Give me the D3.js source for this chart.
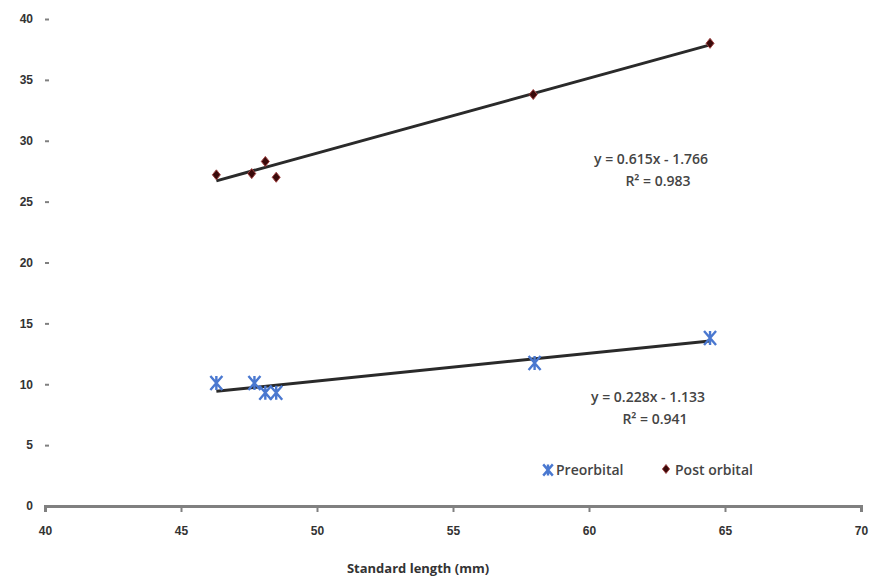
<!DOCTYPE html>
<html><head><meta charset="utf-8">
<script src="https://cdn.jsdelivr.net/npm/d3@7"></script>
<style>body{margin:0;background:#fff}svg{display:block;font-family:"Open Sans",sans-serif}</style>
</head><body><svg id="c" width="872" height="581"></svg>
<script>
const preX = [46.3, 47.7, 48.1, 48.5, 58.0, 64.45];
const preY = [10.1, 10.1, 9.3, 9.3, 11.75, 13.8];
const postX = [46.3, 47.6, 48.1, 48.5, 57.95, 64.45];
const postY = [27.2, 27.3, 28.3, 27.0, 33.8, 38.0];
const preFit = {slope: 0.228, intercept: -1.133, r2: 0.941};
const postFit = {slope: 0.615, intercept: -1.766, r2: 0.983};
const xTicks = [40, 45, 50, 55, 60, 65, 70];
const yTicks = [0, 5, 10, 15, 20, 25, 30, 35, 40];
const seriesNames = ["Preorbital", "Post orbital"];

const svg = d3.select("#c");
const x = d3.scaleLinear().domain([40, 70]).range([45, 861]);
const y = d3.scaleLinear().domain([0, 40]).range([506, 19]);

// x axis
const xa = svg.append("g").attr("transform", "translate(0,506)")
  .call(d3.axisBottom(x).tickValues(xTicks).tickSize(6).tickPadding(14).tickFormat(d3.format("d")));
xa.select(".domain").attr("stroke", "#808080").attr("stroke-width", 3);
xa.selectAll(".tick line").attr("stroke", "#808080").attr("stroke-width", 2);
xa.selectAll("text").attr("font-size", 12).attr("font-weight", 600).attr("fill", "#333");

// y axis (ticks only)
const ya = svg.append("g").attr("transform", "translate(49,0)")
  .call(d3.axisLeft(y).tickValues(yTicks).tickSize(4).tickPadding(12).tickFormat(d3.format("d")));
ya.select(".domain").remove();
ya.selectAll(".tick line").attr("stroke", "#808080").attr("stroke-width", 2);
ya.selectAll("text").attr("font-size", 12).attr("font-weight", 600).attr("fill", "#333");

// trend lines
function trend(fit, xs) {
  const x0 = d3.min(xs), x1 = d3.max(xs);
  svg.append("line")
    .attr("x1", x(x0)).attr("y1", y(fit.slope * x0 + fit.intercept))
    .attr("x2", x(x1)).attr("y2", y(fit.slope * x1 + fit.intercept))
    .attr("stroke", "#2a2a2a").attr("stroke-width", 3);
}
trend(postFit, postX);
trend(preFit, preX);

// markers
const starPath = "M-6,-7L6,7M6,-7L-6,7M0,-7L0,7";
function star(g, cx, cy, s) {
  g.append("path").attr("d", starPath).attr("transform", `translate(${cx},${cy}) scale(${s})`)
    .attr("stroke", "#4a78d0").attr("stroke-width", 2.4 / s).attr("fill", "none");
}
function diamond(g, cx, cy, s) {
  g.append("path").attr("d", "M0,-5L4,0L0,5L-4,0Z").attr("transform", `translate(${cx},${cy}) scale(${s})`)
    .attr("fill", "#3a0a0a").attr("stroke", "#a04040").attr("stroke-width", 1);
}
const pg = svg.append("g");
preX.forEach((v, i) => star(pg, x(v), y(preY[i]), 1));
postX.forEach((v, i) => diamond(pg, x(v), y(postY[i]), 1));

// equations
function eq(fit, cx, cy) {
  const sign = fit.intercept < 0 ? " - " : " + ";
  svg.append("text").attr("x", cx).attr("y", cy).attr("text-anchor", "middle")
    .attr("font-size", 14).attr("font-weight", 600).attr("fill", "#444")
    .text(`y = ${fit.slope.toFixed(3)}x${sign}${Math.abs(fit.intercept).toFixed(3)}`);
  svg.append("text").attr("x", cx + 7).attr("y", cy + 22).attr("text-anchor", "middle")
    .attr("font-size", 14).attr("font-weight", 600).attr("fill", "#444")
    .text(`R² = ${fit.r2.toFixed(3)}`);
}
eq(postFit, 651, 164);
eq(preFit, 648, 402);

// legend
star(svg, 548, 470, 0.8);
svg.append("text").attr("x", 556).attr("y", 475).attr("font-size", 14).attr("font-weight", 600).attr("fill", "#444").text(seriesNames[0]);
diamond(svg, 666, 469, 0.9);
svg.append("text").attr("x", 675).attr("y", 475).attr("font-size", 14).attr("font-weight", 600).attr("fill", "#444").text(seriesNames[1]);

// axis title
svg.append("text").attr("x", 418).attr("y", 573).attr("text-anchor", "middle")
  .attr("font-size", 13).attr("font-weight", 700).attr("fill", "#333").text("Standard length (mm)");
</script></body></html>
